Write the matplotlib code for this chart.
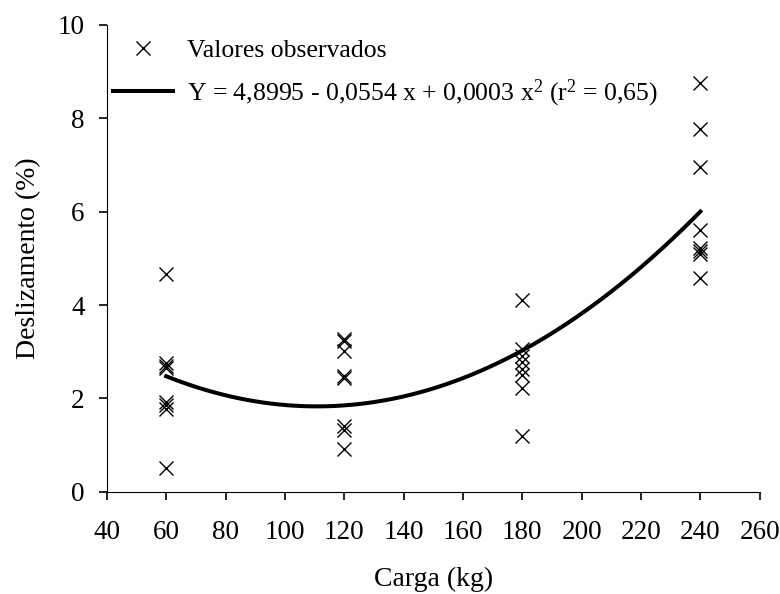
import numpy as np
import matplotlib
matplotlib.use("Agg")
import matplotlib.pyplot as plt

plt.rcParams['font.family'] = ['Liberation Serif', 'DejaVu Serif']
plt.rcParams['mathtext.fontset'] = 'custom'
plt.rcParams['mathtext.rm'] = 'Liberation Serif'
plt.rcParams['mathtext.default'] = 'regular'

# observed values (Carga kg, Deslizamento %)
carga_60 = [4.67, 2.75, 2.70, 2.65, 1.92, 1.85, 1.78, 0.50]
carga_120 = [3.28, 3.22, 3.02, 2.48, 2.44, 1.42, 1.33, 0.92]
carga_180 = [4.10, 3.06, 2.92, 2.78, 2.64, 2.50, 2.22, 1.20]
carga_240 = [8.76, 7.78, 6.95, 5.60, 5.22, 5.15, 5.10, 4.58]
cargas = [60, 120, 180, 240]

# fitted quadratic regression
coef = [4.8995, -0.0554, 0.00025]
legend_eq = 'Y = 4,8995 - 0,0554 x + 0,0003 x$^{2}$ (r$^{2}$ = 0,65)'

fig = plt.figure(figsize=(7.8, 5.94), dpi=100)
ax = fig.add_axes([0.137, 0.172, 0.837, 0.786])

xs, ys = [], []
for c, vals in zip(cargas, [carga_60, carga_120, carga_180, carga_240]):
    xs += [c] * len(vals)
    ys += vals
ax.plot(xs, ys, 'x', color='black', markersize=9.5, markeredgewidth=1.0,
        linestyle='none', label='Valores observados')

xc = np.linspace(60, 240, 200)
yc = coef[0] + coef[1] * xc + coef[2] * xc ** 2
ax.plot(xc, yc, color='black', linewidth=2.9, label=legend_eq)

ax.set_xlim(40, 260)
ax.set_ylim(0, 10)
ax.set_xticks(np.arange(40, 261, 20))
ax.set_yticks(np.arange(0, 11, 2))
ax.spines['top'].set_visible(False)
ax.spines['right'].set_visible(False)
ax.tick_params(direction='out', length=6, width=1.2, labelsize=19.5)
ax.tick_params(axis='x', pad=14)
ax.tick_params(axis='y', pad=10)
ax.set_xlabel('Carga (kg)', fontsize=20, labelpad=16)
ax.set_ylabel('Deslizamento (%)', fontsize=20, labelpad=12)

ax.legend(loc='upper left', bbox_to_anchor=(0.009, 0.97), frameon=False,
          borderpad=0, borderaxespad=0,
          fontsize=18.5, handlelength=2.35, handletextpad=0.55, labelspacing=0.6)

fig.savefig('out.png', dpi=100)
